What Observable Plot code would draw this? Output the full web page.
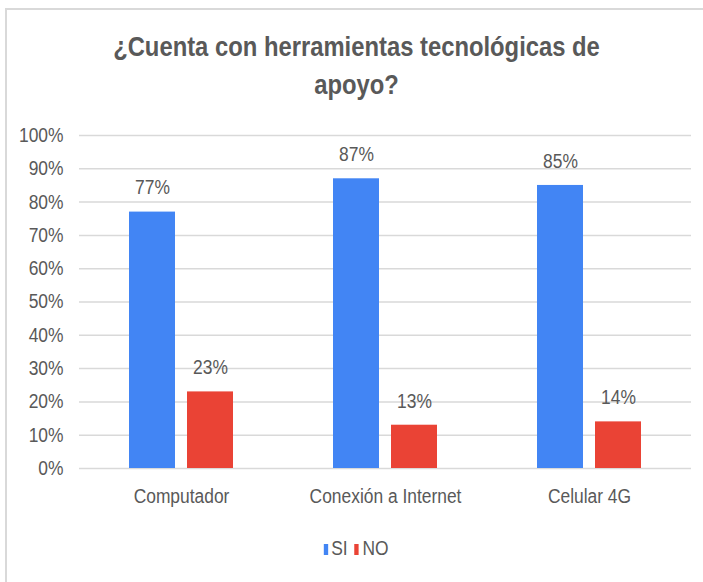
<!DOCTYPE html>
<html>
<head>
<meta charset="utf-8">
<script src="https://cdn.jsdelivr.net/npm/d3@7"></script>
<script src="https://cdn.jsdelivr.net/npm/@observablehq/plot@0.6"></script>
<style>
  html, body { margin: 0; padding: 0; background: #fff; }
  #wrap { position: relative; width: 703px; height: 582px; overflow: hidden; font-family: "Liberation Sans", Arial, sans-serif; color: #595959; }
  #frame { position: absolute; left: 5px; top: 8px; width: 720px; height: 600px; border-left: 2px solid #d9d9d9; border-top: 2px solid #d9d9d9; box-sizing: border-box; }
  #title { position: absolute; left: 0; width: 713px; top: 28px; text-align: center; font-weight: bold; font-size: 28px; line-height: 38px; color: #595959; transform: scaleX(0.85); transform-origin: 50% 50%; }
  #chart { position: absolute; left: 0; top: 120px; }
  #legend { position: absolute; left: 0; width: 712px; top: 535px; text-align: center; font-size: 20px; line-height: 26px; color: #595959; transform: scaleX(0.87); transform-origin: 50% 50%; }
  #legend .item { display: inline-block; margin: 0 4px; }
  #legend .sw { display: inline-block; width: 5px; height: 11px; margin-right: 4px; vertical-align: 0px; }
</style>
</head>
<body>
<div id="wrap">
  <div id="frame"></div>
  <div id="title">¿Cuenta con herramientas tecnológicas de<br>apoyo?</div>
  <div id="chart"></div>
  <div id="legend"></div>
</div>
<script>
const categories = ["Computador", "Conexión a Internet", "Celular 4G"];
const series = ["SI", "NO"];
const siValues = [0.77, 0.87, 0.85];
const noValues = [0.23, 0.13, 0.14];
const yTicks = [0, 0.1, 0.2, 0.3, 0.4, 0.5, 0.6, 0.7, 0.8, 0.9, 1.0];
const colors = ["#4285f4", "#ea4335"];

const data = categories.flatMap((c, i) => [
  {cat: c, serie: "SI", value: siValues[i]},
  {cat: c, serie: "NO", value: noValues[i]}
]);

const pct = v => Math.round(v * 100) + "%";

const chart = Plot.plot({
  width: 703,
  height: 400,
  marginLeft: 79,
  marginRight: 12,
  marginTop: 15,
  marginBottom: 52,
  style: {fontFamily: '"Liberation Sans", Arial, sans-serif', fontSize: "20px", color: "#595959", background: "transparent", overflow: "visible"},
  fx: {domain: categories, padding: 0, label: null, axis: "bottom", tickSize: 0, tickPadding: 20},
  x: {domain: series, axis: null, paddingInner: 0.207, paddingOuter: 0.862},
  y: {domain: [0, 1], ticks: yTicks, tickFormat: pct, label: null, tickSize: 0, tickPadding: 16},
  color: {domain: series, range: colors},
  marks: [
    Plot.gridY(yTicks, {stroke: "#d9d9d9", strokeOpacity: 1, strokeWidth: 1.5}),
    Plot.barY(data, {fx: "cat", x: "serie", y: "value", fill: "serie"}),
    Plot.text(data, {fx: "cat", x: "serie", y: "value", text: d => pct(d.value), dy: -24, fontSize: 20, fill: "#595959"})
  ]
});

// condense all chart text horizontally about its anchor point
chart.querySelectorAll("text").forEach(t => {
  const x = +(t.getAttribute("x") || 0);
  const prev = t.getAttribute("transform") || "";
  t.setAttribute("transform", `${prev} translate(${x},0) scale(0.87,1) translate(${-x},0)`.trim());
});
document.getElementById("chart").appendChild(chart);

const legend = document.getElementById("legend");
series.forEach((s, i) => {
  const item = document.createElement("span");
  item.className = "item";
  const sw = document.createElement("span");
  sw.className = "sw";
  sw.style.background = colors[i];
  item.appendChild(sw);
  item.appendChild(document.createTextNode(s));
  legend.appendChild(item);
});
</script>
</body>
</html>
